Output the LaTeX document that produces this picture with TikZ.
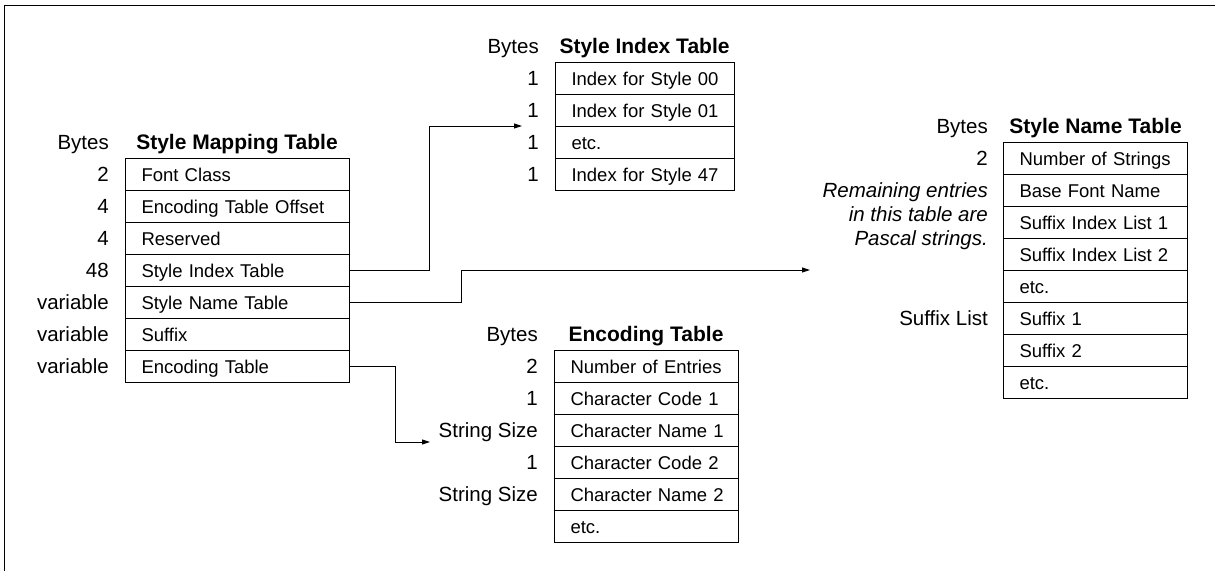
\documentclass[tikz,border=0pt]{standalone}
\usepackage{fontspec}
\setmainfont{Liberation Sans}
\usetikzlibrary{arrows.meta}
\newcommand\rowfont{\fontsize{18.5}{22}\selectfont}
\newcommand\lblfont{\fontsize{20.5}{24}\selectfont}
\newcommand\ttlfont{\fontsize{21}{24}\selectfont\bfseries}
\tikzset{
  row/.style={draw, line width=1pt, anchor=north west, minimum height=32pt,
    inner xsep=0pt, inner ysep=0pt, text width=#1, align=left, font=\rowfont,
    text height=15pt, text depth=1.8pt, execute at begin node=\hspace*{16pt}},
  lbl/.style={anchor=base east, inner sep=0pt, font=\lblfont},
  hdr/.style={anchor=base east, inner sep=0pt, font=\lblfont},
  ttl/.style={anchor=base, inner sep=0pt, font=\ttlfont},
  arr/.style={-{Triangle[length=8pt,width=5pt]}, line width=1pt}
}
\begin{document}
\begin{tikzpicture}[x=1pt,y=-1pt]
\useasboundingbox (0,0) rectangle (1215,571);
\draw[line width=1.5pt] (4.5,571) -- (4.5,5.5) -- (1215,5.5);

% Style Mapping Table
\node[hdr] (mbytes) at (109,149.5) {Bytes};
\node[ttl] (mttl) at (237,149.5) {Style Mapping Table};
\foreach \i/\t/\b in {1/Font Class/2, 2/Encoding Table Offset/4, 3/Reserved/4,
  4/Style Index Table/48, 5/Style Name Table/variable, 6/Suffix/variable,
  7/Encoding Table/variable} {
  \node[row=224pt] (m\i) at (125,{158+32*(\i-1)}) {\t};
  \node[lbl] (mb\i) at (109,{181.5+32*(\i-1)}) {\b};
}

% Style Index Table
\node[hdr] (ibytes) at (539,53.5) {Bytes};
\node[ttl] (ittl) at (644.5,53.5) {Style Index Table};
\foreach \i/\t in {1/Index for Style 00, 2/Index for Style 01, 3/etc., 4/Index for Style 47} {
  \node[row=179pt] (i\i) at (555,{62+32*(\i-1)}) {\t};
  \node[lbl] (ib\i) at (539,{85.5+32*(\i-1)}) {1};
}

% Encoding Table
\node[hdr] (ebytes) at (538,341.5) {Bytes};
\node[ttl] (ettl) at (646,341.5) {Encoding Table};
\foreach \i/\t/\b in {1/Number of Entries/2, 2/Character Code 1/1, 3/Character Name 1/String Size,
  4/Character Code 2/1, 5/Character Name 2/String Size, 6/etc./} {
  \node[row=184pt] (e\i) at (554,{350+32*(\i-1)}) {\t};
  \node[lbl] (eb\i) at (538,{373.5+32*(\i-1)}) {\b};
}

% Style Name Table
\node[hdr] (nbytes) at (988,133.5) {Bytes};
\node[ttl] (nttl) at (1095.5,133.5) {Style Name Table};
\foreach \i/\t in {1/Number of Strings, 2/Base Font Name, 3/Suffix Index List 1,
  4/Suffix Index List 2, 5/etc., 6/Suffix 1, 7/Suffix 2, 8/etc.} {
  \node[row=184pt] (n\i) at (1003,{142+32*(\i-1)}) {\t};
}
\node[lbl] (nb1) at (988,165.5) {2};
\node[lbl] (nb6) at (988,325.5) {Suffix List};
\node[anchor=east, inner sep=0pt, align=right, font=\lblfont\itshape] (note) at (988,216.5)
  {Remaining entries\\in this table are\\Pascal strings.};

% connectors
\coordinate (b1) at (429,126);
\coordinate (t1) at (522,126);
\coordinate (b2) at (461,270);
\coordinate (t2) at (810,270);
\coordinate (b3) at (395,442);
\coordinate (t3) at (430,442);
\draw[arr] (m4.east) -| (b1) -- (t1);
\draw[arr] (m5.east) -| (b2) -- (t2);
\draw[arr] (m7.east) -| (b3) -- (t3);
\end{tikzpicture}
\end{document}
